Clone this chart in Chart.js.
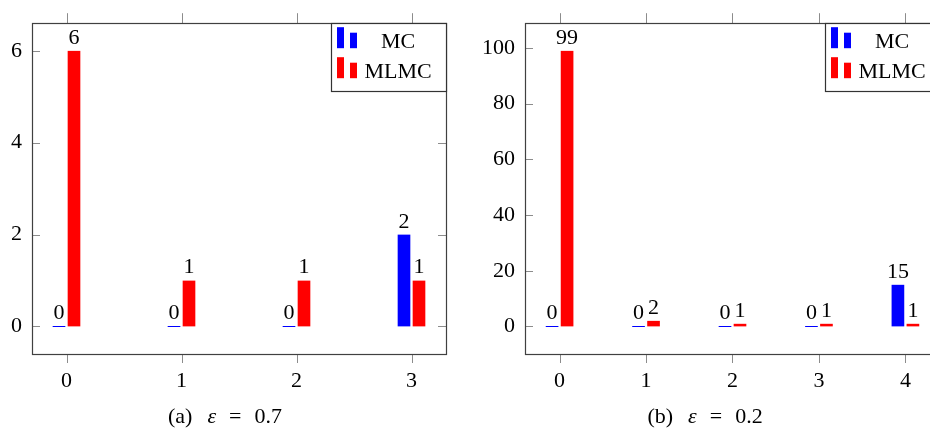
<!DOCTYPE html>
<html>
<head>
<meta charset="utf-8">
<script src="https://cdn.jsdelivr.net/npm/chart.js@4.4.0/dist/chart.umd.min.js"></script>
<style>
  html, body { margin: 0; padding: 0; background: #fff; overflow: hidden; }
  body { width: 930px; height: 439px; position: relative; }
  .panel { position: absolute; top: 0; }
  #wrapA { left: 0; }
  #wrapB { left: 470px; }
  .caption {
    position: absolute; top: 401px; line-height: 30px;
    font-family: 'Liberation Serif', 'Times New Roman', Tinos, 'DejaVu Serif', serif;
    font-size: 22px; color: #000;
    white-space: nowrap; transform: translateX(-50%);
  }
  .caption i { margin-left: 15px; }
  .caption .eq { margin: 0 13px; }
</style>
</head>
<body>
<div class="panel" id="wrapA"><canvas id="chartA" width="470" height="439"></canvas></div>
<div class="panel" id="wrapB"><canvas id="chartB" width="480" height="439"></canvas></div>
<div class="caption" style="left:225px">(a)<i>ε</i><span class="eq">=</span>0.7</div>
<div class="caption" style="left:705px">(b)<i>ε</i><span class="eq">=</span>0.2</div>
<script>
// level on the x axis, number of samples per method
const levelsA = [0, 1, 2, 3];
const mcA = [0, 0, 0, 2];
const mlmcA = [6, 1, 1, 1];
const yTicksA = [0, 2, 4, 6];

const levelsB = [0, 1, 2, 3, 4];
const mcB = [0, 0, 0, 0, 15];
const mlmcB = [99, 2, 1, 1, 1];
const yTicksB = [0, 20, 40, 60, 80, 100];

const seriesNames = ['MC', 'MLMC'];
const seriesColors = ['#0000ff', '#ff0000'];

const FONT = "'Liberation Serif', 'Times New Roman', Tinos, 'DejaVu Serif', serif";

// pgfplots style: 10% enlarged limits
function enlarged(vals) {
    let lo = Math.min(...vals), hi = Math.max(...vals);
    let d = (hi - lo) * 0.1;
    return [lo - d, hi + d];
}

// frame, inner y ticks, outer x ticks (top and bottom)
const framePlugin = {
    id: 'frame',
    afterDraw(chart) {
        const ctx = chart.ctx;
        const a = chart.chartArea;
        const xs = chart.scales.x, ys = chart.scales.y;
        ctx.save();
        ctx.strokeStyle = '#8c8c8c';
        ctx.lineWidth = 1;
        ctx.beginPath();
        for (let t of ys.ticks) {
            let py = Math.round(ys.getPixelForValue(t.value)) + 0.5;
            ctx.moveTo(a.left, py); ctx.lineTo(a.left + 8, py);
            ctx.moveTo(a.right, py); ctx.lineTo(a.right - 8, py);
        }
        for (let t of xs.ticks) {
            let px = Math.round(xs.getPixelForValue(t.value)) + 0.5;
            ctx.moveTo(px, a.top - 10); ctx.lineTo(px, a.top);
            ctx.moveTo(px, a.bottom); ctx.lineTo(px, a.bottom + 9);
        }
        ctx.stroke();
        ctx.strokeStyle = '#404040';
        ctx.lineWidth = 1.2;
        ctx.strokeRect(Math.round(a.left) + 0.5, Math.round(a.top) + 0.5,
            Math.round(a.right - a.left), Math.round(a.bottom - a.top));
        ctx.restore();
    }
};

// numbers above the bars
const valuePlugin = {
    id: 'values',
    afterDatasetsDraw(chart) {
        const ctx = chart.ctx;
        ctx.save();
        ctx.font = '22px ' + FONT;
        ctx.fillStyle = '#000';
        ctx.textAlign = 'center';
        ctx.textBaseline = 'alphabetic';
        chart.data.datasets.forEach((ds, i) => {
            chart.getDatasetMeta(i).data.forEach((el, j) => {
                let v = ds.data[j].y;
                let top = Math.min(el.y, el.base);
                ctx.fillText(String(v), el.x, top - 7);
            });
        });
        ctx.restore();
    }
};

// legend box in the upper right corner
const legendPlugin = {
    id: 'boxlegend',
    afterDraw(chart) {
        const ctx = chart.ctx;
        const a = chart.chartArea;
        const w = 115, h = 68;
        const L = a.right - w, T = a.top;
        ctx.save();
        ctx.fillStyle = '#fff';
        ctx.fillRect(L, T, w, h);
        ctx.strokeStyle = '#333';
        ctx.lineWidth = 1.2;
        ctx.strokeRect(Math.round(L) + 0.5, Math.round(T) + 0.5, w, h);
        ctx.font = '22px ' + FONT;
        ctx.textAlign = 'center';
        ctx.textBaseline = 'alphabetic';
        chart.data.datasets.forEach((ds, i) => {
            let base = T + 25 + i * 30;
            ctx.fillStyle = ds.backgroundColor;
            ctx.fillRect(L + 6, base - 21, 7, 21);
            ctx.fillRect(L + 19, base - 15.5, 7, 15.5);
            ctx.fillStyle = '#000';
            ctx.fillText(ds.label, L + 67, base);
        });
        ctx.restore();
    }
};

function makeChart(id, levels, mc, mlmc, yTicks, frame) {
    const xr = enlarged(levels);
    const yr = enlarged(mc.concat(mlmc));
    const values = [mc, mlmc];
    const canvas = document.getElementById(id);
    return new Chart(canvas, {
        type: 'bar',
        data: {
            datasets: values.map((vals, i) => ({
                label: seriesNames[i],
                data: levels.map((l, j) => ({ x: l, y: vals[j] })),
                backgroundColor: seriesColors[i],
                borderColor: '#fff',
                borderWidth: { left: 1.5, right: 1.5, top: 0, bottom: 0 },
                borderSkipped: false,
                barThickness: 15,
                minBarLength: 1
            }))
        },
        options: {
            responsive: false,
            animation: false,
            events: [],
            layout: {
                padding: { top: frame.top, right: canvas.width - frame.right, left: 0, bottom: 0 }
            },
            plugins: {
                legend: { display: false },
                tooltip: { enabled: false }
            },
            scales: {
                x: {
                    type: 'linear',
                    min: xr[0],
                    max: xr[1],
                    offset: false,
                    afterBuildTicks: s => { s.ticks = levels.map(v => ({ value: v })); },
                    afterFit: s => { s.height = canvas.height - frame.bottom; },
                    border: { display: false },
                    grid: { display: false, drawTicks: false, offset: false },
                    ticks: {
                        autoSkip: false, maxRotation: 0, padding: 14,
                        color: '#000', font: { family: FONT, size: 22 }
                    }
                },
                y: {
                    min: yr[0],
                    max: yr[1],
                    afterBuildTicks: s => { s.ticks = yTicks.map(v => ({ value: v })); },
                    afterFit: s => { s.width = frame.left; },
                    border: { display: false },
                    grid: { display: false, drawTicks: false },
                    ticks: {
                        padding: 10,
                        color: '#000', font: { family: FONT, size: 22 }
                    }
                }
            }
        },
        plugins: [framePlugin, valuePlugin, legendPlugin]
    });
}

makeChart('chartA', levelsA, mcA, mlmcA, yTicksA, { left: 32, top: 10, right: 446, bottom: 354 });
makeChart('chartB', levelsB, mcB, mlmcB, yTicksB, { left: 55, top: 10, right: 470, bottom: 354 });
</script>
</body>
</html>
